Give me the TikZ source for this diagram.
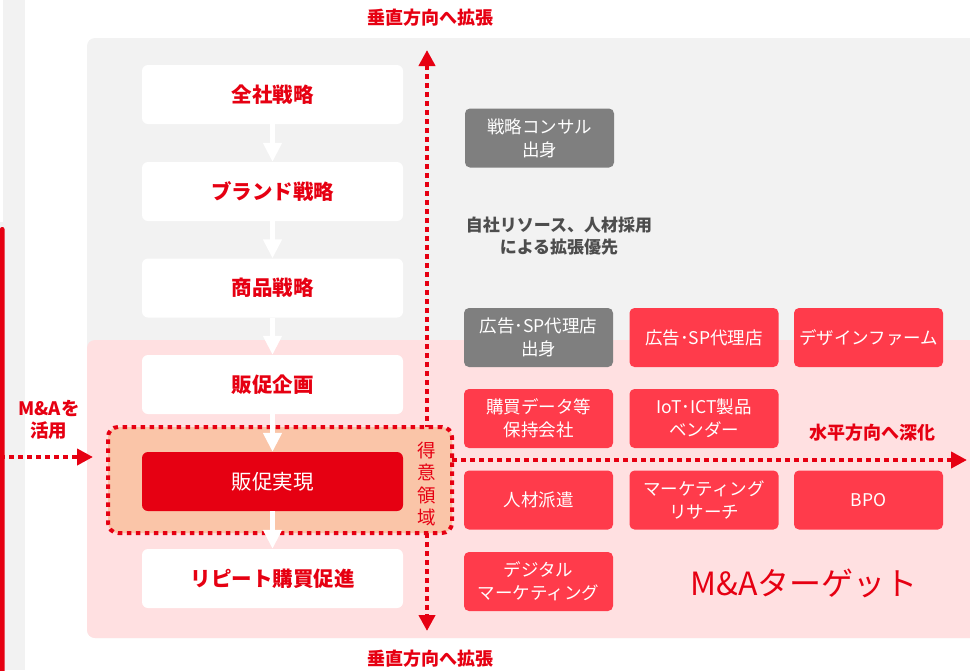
\documentclass[tikz,border=0pt]{standalone}
\usepackage{fontspec}
\setmainfont{Noto Sans CJK JP}
\usetikzlibrary{arrows.meta}
\definecolor{panelgray}{HTML}{F2F2F2}
\definecolor{pinkbg}{HTML}{FFE0E1}
\definecolor{peach}{HTML}{FAC5A8}
\definecolor{darkred}{HTML}{E60012}
\definecolor{lightred}{HTML}{FF3B4B}
\definecolor{boxgray}{HTML}{7F7F7F}
\definecolor{textgray}{HTML}{4D4D4D}
\begin{document}
\begin{tikzpicture}[x=1pt,y=-1pt,
  leftbox/.style={fill=white, rounded corners=6pt, minimum width=261pt, minimum height=59pt, inner sep=0pt, text=darkred, font=\fontsize{20.5}{24}\selectfont\bfseries},
  corebox/.style={leftbox, fill=darkred, text=white, font=\fontsize{20.5}{24}\selectfont},
  rbox/.style={fill=lightred, rounded corners=5pt, minimum width=149pt, minimum height=59pt, inner sep=0pt, text=white, align=center, font=\fontsize{17.5}{23}\selectfont},
  gbox/.style={rbox, fill=boxgray},
  dotline/.style={draw=darkred, line width=4pt, dash pattern=on 4.5pt off 4.5pt},
  redtip/.style={-{Triangle[length=16pt,width=16pt]}},
  whitearrow/.style={draw=white, line width=4.5pt, -{Triangle[length=19pt,width=18pt]}},
  lbl/.style={text=darkred, align=center, inner sep=0pt},
]
\useasboundingbox (0,0) rectangle (970,670);
% left strip
\fill[panelgray] (0,0) rectangle (25,670);
\fill[white] (0,0) rectangle (3,222);
\fill[darkred, rounded corners=2pt] (0,227) rectangle (4.5,690);
% panels
\fill[panelgray, rounded corners=8pt] (87,38) rectangle (1000,638);
\fill[pinkbg, rounded corners=8pt] (87,340) rectangle (1000,638);
% vertical dotted arrow
\coordinate (vtop) at (427,50);
\coordinate (vbot) at (427,631);
\draw[dotline, {Triangle[length=16pt,width=16pt]}-{Triangle[length=16pt,width=16pt]}] (vtop) -- (vbot);
% core (orange) box
\node[draw=darkred, line width=4pt, dash pattern=on 4.5pt off 4.5pt, fill=peach, rounded corners=10pt, minimum width=344pt, minimum height=106pt, inner sep=0pt] (core) at (280,480) {};
\node[lbl, font=\fontsize{18.5}{22.5}\selectfont] (tokui) at (427,484) {得\\意\\領\\域};
% left column boxes
\node[leftbox] (b1) at (272.5,94.5) {全社戦略};
\node[leftbox] (b2) at (272.5,191.5) {ブランド戦略};
\node[leftbox] (b3) at (272.5,288) {商品戦略};
\node[leftbox] (b4) at (272.5,384.5) {販促企画};
\node[corebox] (b5) at (272.5,481.5) {販促実現};
\node[leftbox] (b6) at (272.5,578.5) {リピート購買促進};
\draw[whitearrow] (b1.south) -- (b2.north);
\draw[whitearrow] (b2.south) -- (b3.north);
\draw[whitearrow] (b3.south) -- (b4.north);
\draw[whitearrow] (b4.south) -- (b5.north);
\draw[whitearrow] (b5.south) -- (b6.north);
% horizontal dotted arrow
\coordinate (hstart) at (452,460);
\coordinate (hend) at (967,460);
\draw[dotline, redtip] (hstart) -- (hend);
% left dotted arrow
\coordinate (lstart) at (0,457);
\coordinate (lend) at (93,457);
\draw[dotline, redtip] (lstart) -- (lend);
% right side boxes
\node[gbox] (g1) at (539.5,138) {戦略コンサル\\出身};
\node[text=textgray, align=center, font=\fontsize{17}{22}\selectfont\bfseries] (own) at (559,236) {自社リソース、人材採用\\による拡張優先};
\node[gbox] (g2) at (538.5,337.5) {広告･SP代理店\\出身};
\node[rbox] (r1) at (704,337.5) {広告･SP代理店};
\node[rbox] (r2) at (868.5,337.5) {デザインファーム};
\node[rbox] (r3) at (538.5,418.5) {購買データ等\\保持会社};
\node[rbox] (r4) at (704,418.5) {IoT･ICT製品\\ベンダー};
\node[rbox] (r5) at (538.5,500) {人材派遣};
\node[rbox] (r6) at (704,500) {マーケティング\\リサーチ};
\node[rbox] (r7) at (868.5,500) {BPO};
\node[rbox] (r8) at (538.5,581.5) {デジタル\\マーケティング};
% labels
\node[lbl, font=\fontsize{18}{22}\selectfont\bfseries] (vlabtop) at (430,18) {垂直方向へ拡張};
\node[lbl, font=\fontsize{18}{22}\selectfont\bfseries] (vlabbot) at (430,659) {垂直方向へ拡張};
\node[lbl, font=\fontsize{18}{22}\selectfont\bfseries] (hlab) at (872,433) {水平方向へ深化};
\node[lbl, font=\fontsize{32}{36}\selectfont] (target) at (804,583) {M\&Aターゲット};
\node[lbl, font=\fontsize{18.5}{22}\selectfont\bfseries] (malab) at (49,420) {M\&Aを\\活用};
\end{tikzpicture}
\end{document}
